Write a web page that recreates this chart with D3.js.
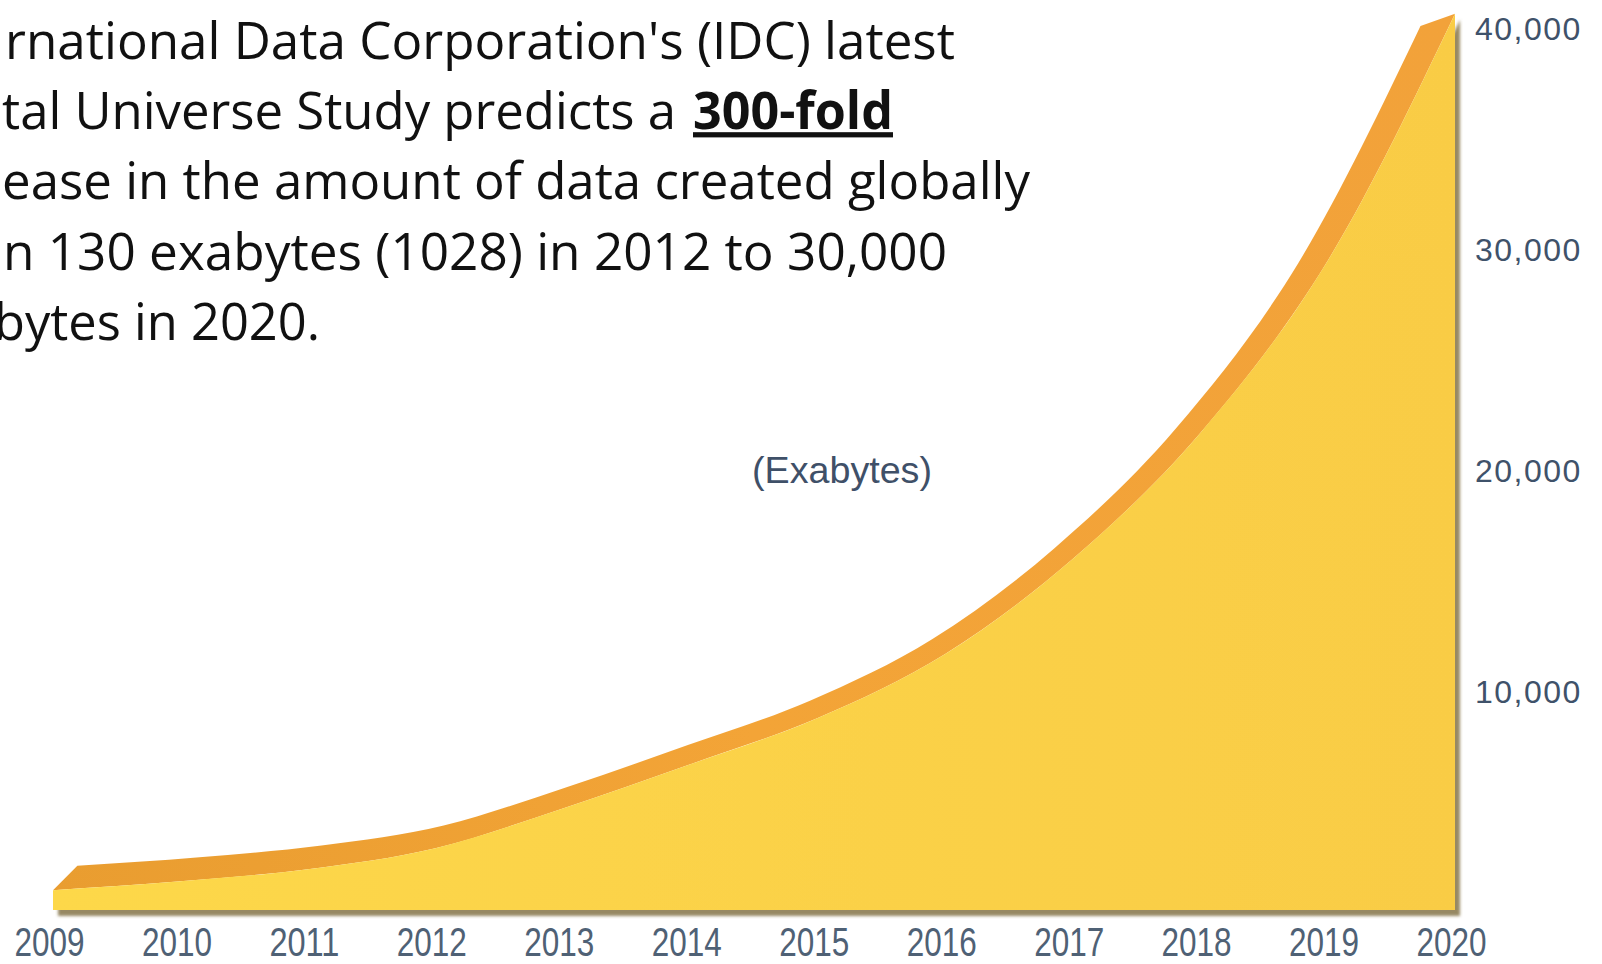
<!DOCTYPE html>
<html>
<head>
<meta charset="utf-8">
<script src="https://cdn.jsdelivr.net/npm/d3@7"></script>
<style>
  body { margin: 0; background: #fff; }
  svg { display: block; }
  .para { font-family: "Open Sans", "Noto Sans", sans-serif; font-size: 52px; fill: #111; }
  .para .strong { font-weight: bold; text-decoration: underline; }
  .y.axis text { font-family: "Liberation Sans", Arial, sans-serif; font-size: 32px; fill: #3f526a; letter-spacing: 1.5px; }
  .x.axis text { font-family: "Liberation Sans Narrow", "Arial Narrow", "Liberation Sans", sans-serif; font-size: 40px; fill: #4f6175; }
  .unit { font-family: "Liberation Sans", Arial, sans-serif; font-size: 36px; fill: #3f5068; }
</style>
</head>
<body>
<div id="chart"></div>
<script>
// data (exabytes created per year)
var years = [2009, 2010, 2011, 2012, 2013, 2014, 2015, 2016, 2017, 2018, 2019, 2020];
var exabytes = [900, 1300, 1850, 2800, 4600, 6600, 8700, 11600, 15900, 21600, 29400, 40600];
var yTicks = [10000, 20000, 30000, 40000];
var unitLabel = "(Exabytes)";

// the slide text, cut off at the left edge like the original
var paraLines = [
  "rnational Data Corporation's (IDC) latest",
  "tal Universe Study predicts a 300-fold",
  "ease in the amount of data created globally",
  "n 130 exabytes (1028) in 2012 to 30,000",
  "bytes in 2020."
];
var emphasis = "300-fold";

var width = 1602, height = 964;

var svg = d3.select("#chart").append("svg")
    .attr("width", width)
    .attr("height", height);

var defs = svg.append("defs");

var gFront = defs.append("linearGradient").attr("id", "frontFill")
    .attr("x1", "0").attr("x2", "1").attr("y1", "0").attr("y2", "0");
gFront.append("stop").attr("offset", "0").attr("stop-color", "#fdd84a");
gFront.append("stop").attr("offset", "1").attr("stop-color", "#f9cc45");

var gTop = defs.append("linearGradient").attr("id", "topFill")
    .attr("x1", "0").attr("x2", "1").attr("y1", "0").attr("y2", "0");
gTop.append("stop").attr("offset", "0").attr("stop-color", "#e99d30");
gTop.append("stop").attr("offset", "0.5").attr("stop-color", "#f3a437");
gTop.append("stop").attr("offset", "1").attr("stop-color", "#f2a23a");

var shadow = defs.append("filter").attr("id", "shadow")
    .attr("x", "-5%").attr("y", "-5%").attr("width", "110%").attr("height", "110%");
shadow.append("feDropShadow")
    .attr("dx", 5).attr("dy", 6)
    .attr("stdDeviation", 1.6)
    .attr("flood-color", "#85744a")
    .attr("flood-opacity", 0.85);

// scales
var x = d3.scaleLinear().domain([2009, 2020]).range([53, 1455]);
var y = d3.scaleLinear().domain([0, 40000]).range([910, 27]);

// the 3d look: back edge is the front edge pulled towards a vanishing point
var vp = [633, 307], depth = 0.042;
function back(p) { return [p[0] + depth * (vp[0] - p[0]), p[1] + depth * (vp[1] - p[1])]; }

var pts = years.map(function (yr, i) { return [x(yr), y(exabytes[i])]; });

var band = d3.area()
    .x0(function (p) { return back(p)[0]; })
    .y0(function (p) { return back(p)[1]; })
    .x1(function (p) { return p[0]; })
    .y1(function (p) { return p[1]; })
    .curve(d3.curveMonotoneX);

var front = d3.area()
    .x(function (p) { return p[0]; })
    .y0(y(0))
    .y1(function (p) { return p[1]; })
    .curve(d3.curveMonotoneX);

// top surface (orange), then front face (yellow) over it
svg.append("path")
    .datum(pts)
    .attr("d", band)
    .style("fill", "url(#topFill)");

svg.append("path")
    .datum(pts)
    .attr("d", front)
    .style("fill", "url(#frontFill)")
    .attr("filter", "url(#shadow)");

// y axis on the right
var yAxis = d3.axisRight(y).tickValues(yTicks).tickSize(0).tickPadding(0)
    .tickFormat(d3.format(","));
var gy = svg.append("g")
    .attr("class", "y axis")
    .attr("transform", "translate(1475,0)")
    .call(yAxis);
gy.select(".domain").remove();
gy.selectAll("text").attr("dy", "0.4em");

// x axis of years
var xAxis = d3.axisBottom(x).tickValues(years).tickSize(0).tickPadding(3)
    .tickFormat(d3.format("d"));
var gx = svg.append("g")
    .attr("class", "x axis")
    .attr("transform", "translate(-4,925)")
    .call(xAxis);
gx.select(".domain").remove();
gx.selectAll("text")
    .attr("textLength", 70)
    .attr("lengthAdjust", "spacingAndGlyphs");

svg.append("text")
    .attr("class", "unit")
    .attr("x", 842)
    .attr("y", 483)
    .attr("text-anchor", "middle")
    .attr("textLength", 180)
    .attr("lengthAdjust", "spacingAndGlyphs")
    .text(unitLabel);

// paragraph text
var paraX = [5, 2, 2, 3, -6];
var paraW = [950, 674, 1028, 944, 326];
var baseY = 59, lineGap = 70.2;

paraLines.forEach(function (line, i) {
  var k = line.indexOf(emphasis);
  var plain = k >= 0 ? line.slice(0, k).replace(/\s+$/, "") : line;
  svg.append("text")
      .attr("class", "para")
      .attr("x", paraX[i])
      .attr("y", baseY + i * lineGap)
      .attr("textLength", paraW[i])
      .attr("lengthAdjust", "spacingAndGlyphs")
      .text(plain);
  if (k >= 0) {
    svg.append("text")
        .attr("class", "para")
        .attr("x", 693)
        .attr("y", baseY + i * lineGap)
        .attr("textLength", 200)
        .attr("lengthAdjust", "spacingAndGlyphs")
        .append("tspan")
        .attr("class", "strong")
        .text(emphasis);
  }
});
</script>
</body>
</html>
